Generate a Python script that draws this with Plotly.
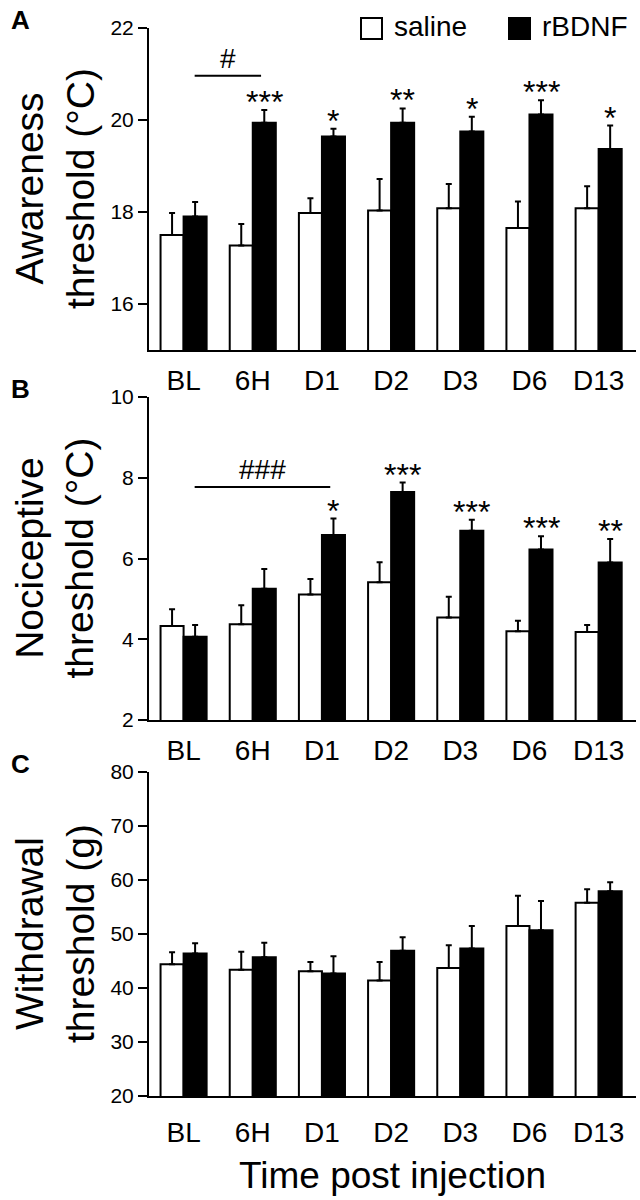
import plotly.graph_objects as go

# ---------------- data ----------------
categories = ["BL", "6H", "D1", "D2", "D3", "D6", "D13"]

# Panel A: Awareness threshold (°C)
a_saline = [17.50, 17.27, 17.98, 18.03, 18.08, 17.65, 18.08]
a_saline_err = [0.48, 0.47, 0.32, 0.69, 0.53, 0.58, 0.48]
a_bdnf = [17.90, 19.94, 19.64, 19.94, 19.75, 20.12, 19.37]
a_bdnf_err = [0.32, 0.28, 0.17, 0.31, 0.32, 0.31, 0.51]
a_stars = ["", "***", "*", "**", "*", "***", "*"]

# Panel B: Nociceptive threshold (°C)
b_saline = [4.33, 4.37, 5.11, 5.41, 4.54, 4.20, 4.18]
b_saline_err = [0.41, 0.47, 0.38, 0.50, 0.51, 0.26, 0.17]
b_bdnf = [4.06, 5.25, 6.58, 7.65, 6.69, 6.22, 5.90]
b_bdnf_err = [0.29, 0.49, 0.41, 0.23, 0.27, 0.33, 0.58]
b_stars = ["", "", "*", "***", "***", "***", "**"]

# Panel C: Withdrawal threshold (g)
c_saline = [44.4, 43.4, 43.1, 41.4, 43.7, 51.5, 55.8]
c_saline_err = [2.2, 3.3, 1.7, 3.4, 4.2, 5.6, 2.5]
c_bdnf = [46.4, 45.7, 42.7, 46.9, 47.3, 50.7, 57.9]
c_bdnf_err = [1.9, 2.7, 3.2, 2.5, 4.2, 5.4, 1.7]
c_stars = ["", "", "", "", "", "", ""]

# significance brackets: (start category, end category, level, label)
a_bracket = ("BL", "6H", 20.96, "#")
b_bracket = ("BL", "D1", 7.77, "###")

y_ticks_a = [16, 18, 20, 22]
y_ticks_b = [2, 4, 6, 8, 10]
y_ticks_c = [20, 30, 40, 50, 60, 70, 80]

FONT = "Liberation Sans, Arial, Helvetica, sans-serif"
W, H = 640, 1200

panels = [
    dict(sal=a_saline, sal_e=a_saline_err, bd=a_bdnf, bd_e=a_bdnf_err, stars=a_stars,
         rng=[15, 22], ticks=y_ticks_a, top=28, bottom=350,
         title="Awareness<br>threshold (°C)", letter="A", bracket=a_bracket, standoff=4),
    dict(sal=b_saline, sal_e=b_saline_err, bd=b_bdnf, bd_e=b_bdnf_err, stars=b_stars,
         rng=[2, 10], ticks=y_ticks_b, top=397, bottom=720,
         title="Nociceptive<br>threshold (°C)", letter="B", bracket=b_bracket, standoff=4),
    dict(sal=c_saline, sal_e=c_saline_err, bd=c_bdnf, bd_e=c_bdnf_err, stars=c_stars,
         rng=[20, 80], ticks=y_ticks_c, top=772, bottom=1096,
         title="Withdrawal<br>threshold (g)", letter="C", bracket=None, standoff=10),
]

X_LEFT, X_RIGHT = 149, 636
x_domain = [X_LEFT / W, X_RIGHT / W]
x_range = [-0.5, 6.54]
xs = list(range(len(categories)))
OFF = 0.167  # half of one bar width in category units

fig = go.Figure()
annotations = []
shapes = []

for i, p in enumerate(panels):
    n = "" if i == 0 else str(i + 1)
    xa, ya = "x" + n, "y" + n
    fig.add_trace(go.Bar(
        x=xs, y=p["sal"], name="saline", xaxis=xa, yaxis=ya,
        marker=dict(color="white", line=dict(color="black", width=2)),
        error_y=dict(type="data", array=p["sal_e"], arrayminus=[0] * 7, symmetric=False,
                     color="black", thickness=2, width=3),
        showlegend=False, offsetgroup="s"))
    fig.add_trace(go.Bar(
        x=xs, y=p["bd"], name="rBDNF", xaxis=xa, yaxis=ya,
        marker=dict(color="black", line=dict(color="black", width=2)),
        error_y=dict(type="data", array=p["bd_e"], arrayminus=[0] * 7, symmetric=False,
                     color="black", thickness=2, width=3),
        showlegend=False, offsetgroup="b"))

    ydom = [1 - p["bottom"] / H, 1 - p["top"] / H]
    fig.update_layout(**{
        ("xaxis" + n): dict(domain=x_domain, anchor=ya, range=x_range,
                            tickvals=xs, ticktext=categories, ticks="",
                            showline=True, linecolor="black", linewidth=2,
                            tickfont=dict(size=28, color="black", family=FONT),
                            ticklabelstandoff=p["standoff"], automargin=False,
                            showgrid=False, zeroline=False, fixedrange=True),
        ("yaxis" + n): dict(domain=ydom, anchor=xa, range=p["rng"],
                            tickvals=p["ticks"], ticks="outside", ticklen=9, tickwidth=2,
                            tickcolor="black", showline=True, linecolor="black", linewidth=2,
                            tickfont=dict(size=21, color="black", family=FONT),
                            automargin=False,
                            showgrid=False, zeroline=False, fixedrange=True),
    })

    # significance stars above rBDNF bars
    for k, s in enumerate(p["stars"]):
        if s:
            annotations.append(dict(
                x=k + OFF, y=p["bd"][k] + p["bd_e"][k], xref=xa, yref=ya,
                text=s, showarrow=False, yanchor="middle", xanchor="center", yshift=8,
                font=dict(size=32, color="black", family=FONT)))

    # bracket
    if p["bracket"]:
        c0, c1, lvl, lab = p["bracket"]
        x0 = categories.index(c0) + 0.16
        x1 = categories.index(c1) + 0.12
        shapes.append(dict(type="line", xref=xa, yref=ya, x0=x0, x1=x1, y0=lvl, y1=lvl,
                           line=dict(color="black", width=2)))
        annotations.append(dict(x=(x0 + x1) / 2, y=lvl, xref=xa, yref=ya, text=lab,
                                showarrow=False, yanchor="bottom", yshift=0,
                                font=dict(size=28, color="black", family=FONT)))

    # y-axis title
    annotations.append(dict(
        x=55 / W, y=1 - (p["top"] + p["bottom"]) / 2 / H, xref="paper", yref="paper",
        text=p["title"], textangle=-90, showarrow=False, xanchor="center", yanchor="middle",
        font=dict(size=39, color="black", family=FONT)))

    # panel letter
    annotations.append(dict(
        x=20 / W, y=1 - (p["top"] - 8) / H, xref="paper", yref="paper",
        text="<b>%s</b>" % p["letter"], showarrow=False, xanchor="center", yanchor="middle",
        font=dict(size=26, color="black", family=FONT)))

# x-axis title
annotations.append(dict(
    x=(X_LEFT + X_RIGHT) / 2 / W, y=1 - 1175 / H, xref="paper", yref="paper",
    text="Time post injection", showarrow=False, xanchor="center", yanchor="middle",
    font=dict(size=37, color="black", family=FONT)))

# legend (key squares + labels)
for (x0, fill, lab) in [(361, "white", "saline"), (509, "black", "rBDNF")]:
    shapes.append(dict(type="rect", xref="paper", yref="paper",
                       x0=x0 / W, x1=(x0 + 21) / W, y0=1 - 39 / H, y1=1 - 18 / H,
                       fillcolor=fill, line=dict(color="black", width=2)))
    annotations.append(dict(x=(x0 + 31) / W, y=1 - 27 / H, xref="paper", yref="paper",
                            text=lab, showarrow=False, xanchor="left", yanchor="middle",
                            font=dict(size=28, color="black", family=FONT)))

fig.update_layout(
    width=W, height=H, margin=dict(l=0, r=0, t=0, b=0),
    paper_bgcolor="white", plot_bgcolor="white",
    barmode="group", bargap=0.334, bargroupgap=0,
    annotations=annotations, shapes=shapes,
    font=dict(family=FONT, color="black"),
)

fig.write_html(
    "out.html",
    config={"displayModeBar": False},
    post_script="document.body.style.margin='0';document.body.style.padding='0';"
                "document.body.style.overflow='hidden';"
                "document.documentElement.style.overflow='hidden';",
)
